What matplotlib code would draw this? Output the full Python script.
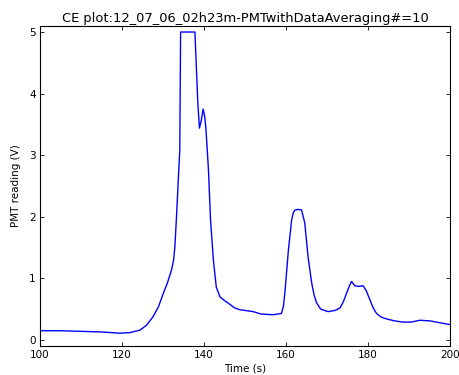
import matplotlib
matplotlib.use('Agg')
import matplotlib.pyplot as plt

# valores (tempo em s, leitura PMT em V)
tempo = [100, 105, 110, 115, 119.5, 122, 124.4, 126.0, 127.6, 128.9,
         130.1, 131.1, 132.1, 132.6, 132.9, 133.3, 133.7, 134.1, 134.3,
         137.8, 138.0, 138.5, 138.9, 139.3, 139.8, 140.2, 140.5, 141.1,
         141.6, 142.3, 143.0, 143.9, 145.0, 146.3, 147.5, 148.8, 150.0,
         152.0, 154.0, 156.9, 158.9, 159.4, 159.8, 160.6, 161.4, 161.8,
         162.2, 163.0, 163.8, 164.6, 165.4, 166.3, 166.9,
         167.5, 168.5, 170.3, 172.0, 173.2, 174.0, 174.8, 175.5, 176.0,
         176.8, 177.8, 178.8, 179.6, 180.5, 181.3, 182.1, 183.3, 184.6,
         186.5, 188.6, 190.5, 192.7, 195.1, 197.5, 200]
leitura = [0.15, 0.15, 0.14, 0.13, 0.11, 0.12, 0.16, 0.24, 0.38, 0.54,
           0.76, 0.93, 1.14, 1.3, 1.51, 2.0, 2.55, 3.08, 5.0,
           5.0, 4.66, 3.85, 3.44, 3.55, 3.75, 3.62, 3.41, 2.76,
           1.95, 1.3, 0.86, 0.7, 0.64, 0.58, 0.52, 0.49, 0.48,
           0.46, 0.42, 0.41, 0.43, 0.55, 0.81, 1.46, 1.95, 2.07,
           2.11, 2.12, 2.11, 1.9, 1.35, 0.92, 0.72,
           0.6, 0.5, 0.46, 0.48, 0.52, 0.62, 0.76, 0.88, 0.95,
           0.88, 0.87, 0.88, 0.8, 0.65, 0.52, 0.43, 0.37, 0.34,
           0.31, 0.29, 0.29, 0.32, 0.31, 0.28, 0.25]

fig = plt.figure(figsize=(4.6, 3.75), dpi=100, facecolor='white')
ax = fig.add_axes([0.087, 0.077, 0.891, 0.854])

ax.plot(tempo, leitura, color='#0000ff', linewidth=1.0)

ax.set_xlim(100, 200)
ax.set_ylim(-0.1, 5.1)
ax.set_xticks([100, 120, 140, 160, 180, 200])
ax.set_yticks([0, 1, 2, 3, 4, 5])
ax.tick_params(direction='in', top=True, right=True, length=3, width=0.6,
               pad=3, labelsize=7.5)
for lado in ax.spines.values():
    lado.set_linewidth(0.8)

ax.set_title('CE plot:12_07_06_02h23m-PMTwithDataAveraging#=10',
             fontsize=9.4, pad=3)
ax.set_xlabel('Time (s)', fontsize=7.5, labelpad=2)
ax.set_ylabel('PMT reading (V)', fontsize=7.5, labelpad=6)

fig.savefig('out.png', dpi=100, facecolor='white')
